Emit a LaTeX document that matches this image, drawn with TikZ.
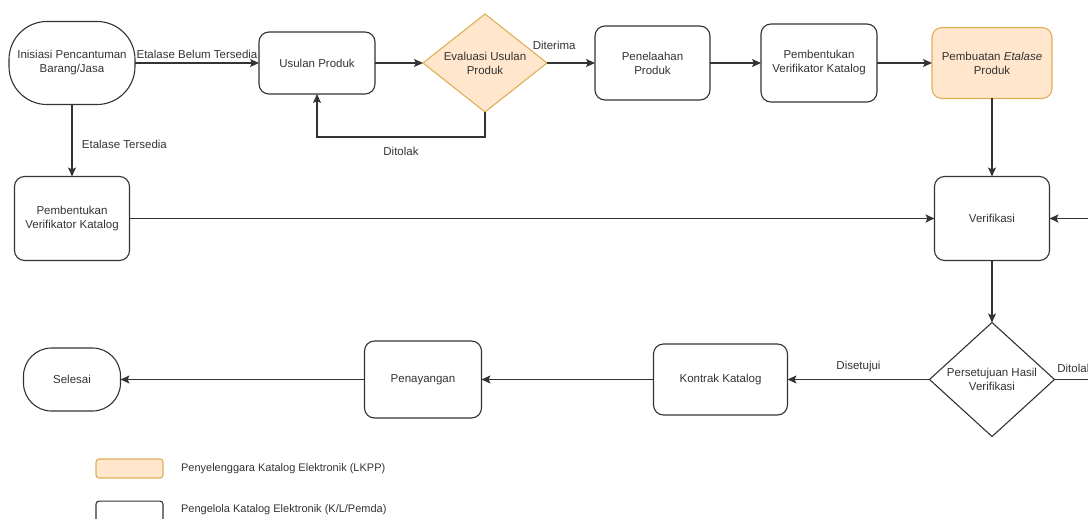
\documentclass[tikz,border=0pt]{standalone}
\usepackage{fontspec}
\setmainfont{Liberation Sans}
\usetikzlibrary{arrows.meta,positioning,shapes.geometric}
\definecolor{lkppfill}{HTML}{FFE6CC}
\definecolor{lkppline}{HTML}{DDB058}
\definecolor{ink}{HTML}{333333}

\begin{document}
\begin{tikzpicture}[x=1pt,y=-1pt, font=\fontsize{11.5}{14}\selectfont, text=ink,
  proc/.style={draw=ink,line width=1.1pt,rounded corners=10pt,align=center,inner sep=2pt,outer sep=0pt},
  term/.style={draw=ink,line width=1.1pt,align=center,inner sep=2pt,outer sep=0pt},
  dec/.style={draw=ink,line width=1.1pt,diamond,aspect=1.2,inner sep=-6pt,outer sep=0pt,align=center},
  lkpp/.style={fill=lkppfill,draw=lkppline},
  arr/.style={-{Stealth[length=9pt,width=8pt,inset=2pt]},line width=1.1pt,draw=ink},
  plain/.style={line width=1.1pt,draw=ink}]
  \useasboundingbox (0,0) rectangle (1088,519);
  \clip (0,0) rectangle (1088,519);
  \node[term, minimum width=126pt, minimum height=83pt, rounded corners=38pt] (inisiasi) at (72,63) {Inisiasi Pencantuman\\Barang/Jasa};
  \node[proc, minimum width=116pt, minimum height=62pt] (usulan) [right=124pt of inisiasi] {Usulan Produk};
  \node[dec, lkpp, minimum width=124pt, minimum height=98pt] (evaluasi) [right=48pt of usulan] {Evaluasi Usulan\\Produk};
  \node[proc, minimum width=115pt, minimum height=74pt] (telaah) [right=48pt of evaluasi] {Penelaahan\\Produk};
  \node[proc, minimum width=116pt, minimum height=78pt] (verkat) [right=51pt of telaah] {Pembentukan\\Verifikator Katalog};
  \node[proc, lkpp, minimum width=120pt, minimum height=71pt] (etalase) [right=55pt of verkat] {Pembuatan \textit{Etalase}\\Produk};
  \node[proc, minimum width=115pt, minimum height=84pt] (verkat2) [below=72pt of inisiasi] {Pembentukan\\Verifikator Katalog};
  \node[proc, minimum width=115pt, minimum height=84pt] (verif) [below=78pt of etalase] {Verifikasi};
  \node[dec, minimum width=125pt, minimum height=114pt] (setuju) [below=62pt of verif] {Persetujuan Hasil\\Verifikasi};
  \node[proc, minimum width=134pt, minimum height=71pt] (kontrak) [left=142pt of setuju] {Kontrak Katalog};
  \node[proc, minimum width=117pt, minimum height=77pt] (tayang) [left=172pt of kontrak] {Penayangan};
  \node[term, minimum width=97pt, minimum height=63pt, rounded corners=28pt] (selesai) [left=244pt of tayang] {Selesai};
  \path (setuju.east) ++(40,0) coordinate (tepiA);
  \path (verif.east) ++(45,0) coordinate (tepiB);
  \draw[arr] (inisiasi) -- node[above=1pt] {Etalase Belum Tersedia} (usulan);
  \draw[arr] (usulan) -- (evaluasi);
  \draw[arr] (evaluasi) -- node[above=10pt, pos=0.15] {Diterima} (telaah);
  \draw[arr] (telaah) -- (verkat);
  \draw[arr] (verkat) -- (etalase);
  \draw[arr] (evaluasi.south) -- ++(0,25) -| node[below=6pt, pos=0.25] {Ditolak} (usulan.south);
  \draw[arr] (inisiasi) -- node[right=6pt, pos=0.55] {Etalase Tersedia} (verkat2);
  \draw[arr] (verkat2) -- (verif);
  \draw[arr] (etalase) -- (verif);
  \draw[arr] (verif) -- (setuju);
  \draw[arr] (setuju) -- node[above=4pt] {Disetujui} (kontrak);
  \draw[arr] (kontrak) -- (tayang);
  \draw[arr] (tayang) -- (selesai);
  \draw[plain] (setuju.east) -- node[pos=0, anchor=south west, yshift=3pt, xshift=-1pt] {Ditolak} (tepiA);
  \draw[arr] (tepiB) -- (verif.east);
  \node[draw=lkppline, fill=lkppfill, line width=1.1pt, rounded corners=3pt, minimum width=67pt, minimum height=19pt] (leg1) at (129.5,468.5) {};
  \node[font=\fontsize{11}{13}\selectfont] (leg1txt) [right=14pt of leg1] {Penyelenggara Katalog Elektronik (LKPP)};
  \node[draw=ink, line width=1.1pt, rounded corners=3pt, minimum width=67pt, minimum height=22pt] (leg2) [below=22pt of leg1] {};
  \node[font=\fontsize{11}{13}\selectfont] (leg2txt) [right=14pt of leg2, yshift=2pt] {Pengelola Katalog Elektronik (K/L/Pemda)};
\end{tikzpicture}
\end{document}
